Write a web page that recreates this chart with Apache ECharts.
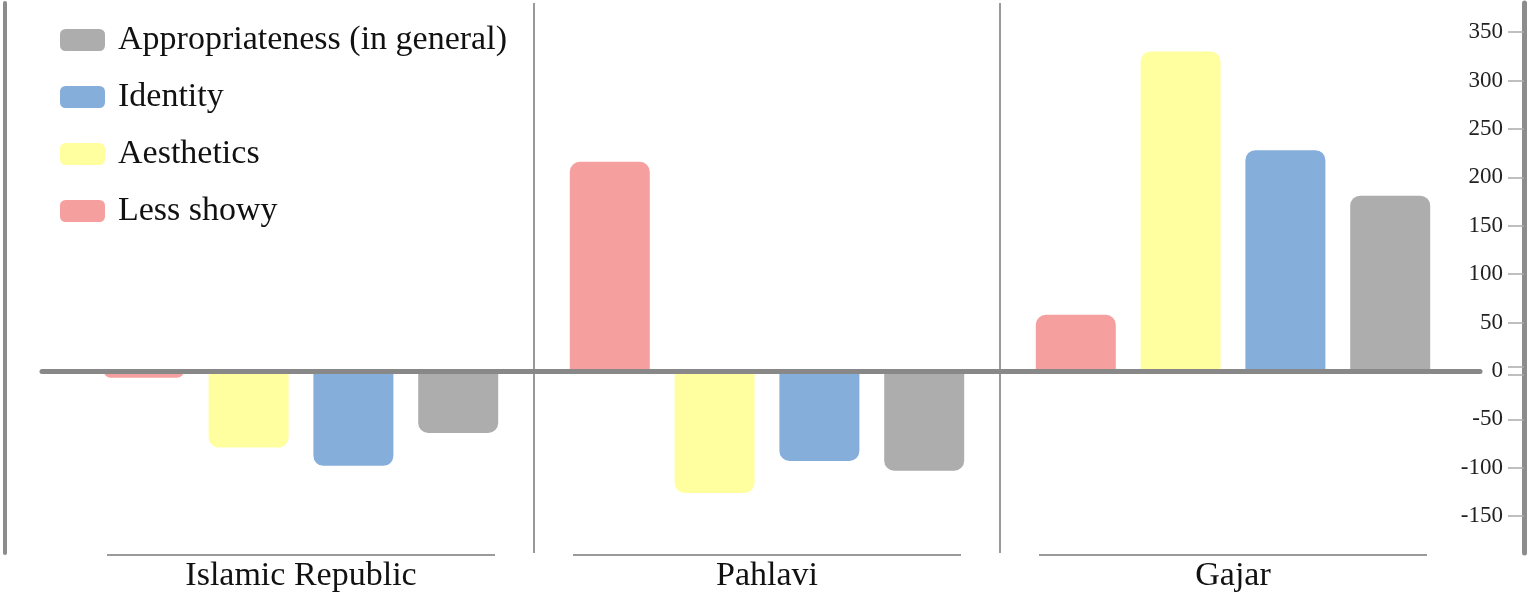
<!DOCTYPE html>
<html>
<head>
<meta charset="utf-8">
<script src="https://cdn.jsdelivr.net/npm/echarts@6/dist/echarts.min.js"></script>
<style>
  html, body { margin: 0; padding: 0; background: #fff; }
  #chart { width: 1534px; height: 594px; }
</style>
</head>
<body>
<div id="chart"></div>
<script>
const categories = ['Islamic Republic', 'Pahlavi', 'Gajar'];
const lessShowy = [-7, 216, 58];
const aesthetics = [-79, -126, 330];
const identity = [-98, -93, 228];
const appropriateness = [-64, -103, 181];
const yLabels = [-150, -100, -50, 0, 50, 100, 150, 200, 250, 300, 350];
const yTickMarks = [-150, -100, -50, -4, 4, 50, 100, 150, 200, 250, 300, 350];
const legendOrder = ['Appropriateness (in general)', 'Identity', 'Aesthetics', 'Less showy'];

const serif = "'Liberation Serif', 'Times New Roman', serif";
const yMin = -188, yMax = 380;

// round only the end away from zero
function bars(values) {
  return values.map(v => ({
    value: v,
    itemStyle: { borderRadius: v >= 0 ? [10, 10, 0, 0] : [0, 0, 10, 10] }
  }));
}

function barSeries(name, values, color) {
  return {
    name: name,
    type: 'bar',
    barWidth: 80,
    barGap: '31%',
    itemStyle: { color: color },
    data: bars(values)
  };
}

const chart = echarts.init(document.getElementById('chart'));
chart.setOption({
  animation: false,
  legend: {
    orient: 'vertical',
    left: 55,
    top: 18,
    itemWidth: 45,
    itemHeight: 22,
    itemGap: 23,
    icon: 'roundRect',
    data: legendOrder,
    textStyle: { fontFamily: serif, fontSize: 34, color: '#111', padding: [0, 0, 0, 8] }
  },
  grid: [
    { left: 68, right: 68, top: 3, bottom: 41 },
    { left: 42, right: 54, top: 3, bottom: 41 }
  ],
  xAxis: [{
    type: 'category',
    gridIndex: 0,
    data: categories,
    axisLine: { show: false, onZero: false },
    axisTick: { show: false },
    splitLine: {
      show: true,
      showMinLine: false,
      showMaxLine: false,
      lineStyle: { color: '#999', width: 2 }
    },
    axisLabel: {
      margin: 0,
      formatter: v => '{u| }\n{t|' + v + '}',
      rich: {
        u: { width: 388, height: 2, lineHeight: 4, backgroundColor: '#9a9a9a' },
        t: { fontFamily: serif, fontSize: 34, color: '#111', lineHeight: 38 }
      }
    }
  }, {
    type: 'value',
    gridIndex: 1,
    min: 0,
    max: 1,
    z: 5,
    axisLine: { show: true, onZero: true, lineStyle: { color: '#888', width: 5 } },
    axisTick: { show: false },
    axisLabel: { show: false },
    splitLine: { show: false }
  }],
  yAxis: [{
    type: 'value',
    gridIndex: 0,
    position: 'right',
    offset: 58,
    min: yMin,
    max: yMax,
    axisLine: { show: true, lineStyle: { color: '#8c8c8c', width: 5 } },
    axisTick: {
      show: true,
      inside: true,
      length: 16,
      customValues: yTickMarks,
      lineStyle: { color: '#aaa', width: 1.5 }
    },
    axisLabel: {
      inside: true,
      margin: 21,
      customValues: yLabels,
      fontFamily: serif,
      fontSize: 23,
      color: '#222'
    },
    splitLine: { show: false }
  }, {
    type: 'value',
    gridIndex: 0,
    position: 'left',
    offset: 63,
    min: yMin,
    max: yMax,
    axisLine: { show: true, lineStyle: { color: '#8c8c8c', width: 4 } },
    axisTick: { show: false },
    axisLabel: { show: false },
    splitLine: { show: false }
  }, {
    type: 'value',
    gridIndex: 1,
    min: yMin,
    max: yMax,
    show: false
  }],
  series: [
    barSeries('Less showy', lessShowy, '#F5A09E'),
    barSeries('Aesthetics', aesthetics, '#FFFFA0'),
    barSeries('Identity', identity, '#85AEDA'),
    barSeries('Appropriateness (in general)', appropriateness, '#ADADAD')
  ]
});
</script>
</body>
</html>
